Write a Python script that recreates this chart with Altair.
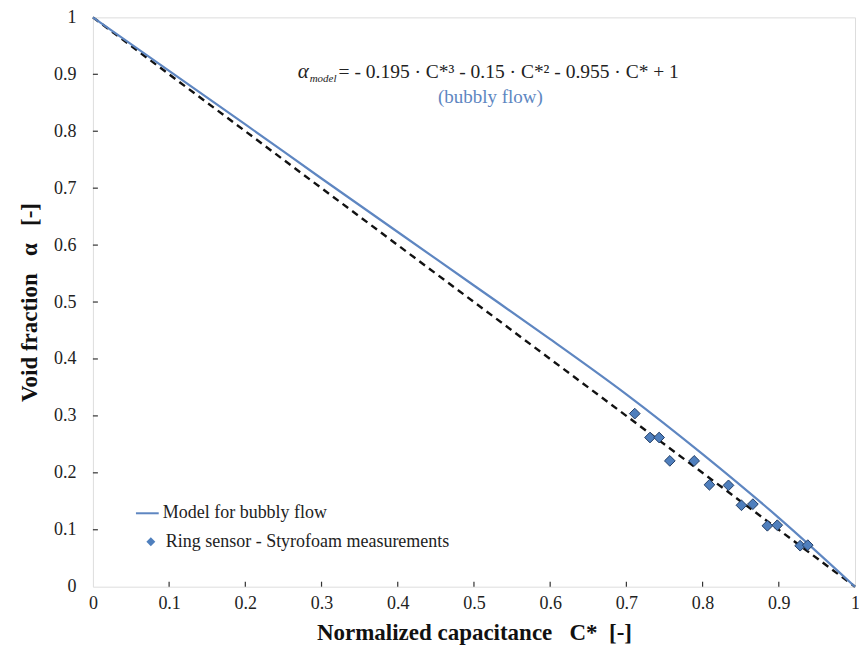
import altair as alt
import pandas as pd

# Model for bubbly flow
model_c = [0.0, 0.1, 0.2, 0.3, 0.4, 0.5, 0.6, 0.7, 0.8, 0.9, 1.0]
model_a = [1.0, 0.906, 0.812, 0.717, 0.623, 0.529, 0.435, 0.338, 0.233, 0.121, 0.0]

# Dashed reference line
ref_c = [0.0, 1.0]
ref_a = [1.0, 0.0]

# Ring sensor - Styrofoam measurements
meas_c = [0.711, 0.731, 0.743, 0.757, 0.789, 0.809, 0.834, 0.851, 0.866, 0.885, 0.898, 0.928, 0.938]
meas_a = [0.304, 0.262, 0.262, 0.221, 0.221, 0.179, 0.178, 0.143, 0.145, 0.107, 0.108, 0.072, 0.073]

ticks = [0.1, 0.2, 0.3, 0.4, 0.5, 0.6, 0.7, 0.8, 0.9]
tick_values = [0, 0.1, 0.2, 0.3, 0.4, 0.5, 0.6, 0.7, 0.8, 0.9, 1]

W, H = 763, 570
FONT = "Liberation Serif, Times New Roman, DejaVu Serif, serif"
BLUE = "#5E86C1"
NB = "\u00a0"

model_df = pd.DataFrame({"C": model_c, "a": model_a, "s": ["Model for bubbly flow"] * len(model_c)})
ref_df = pd.DataFrame({"C": ref_c, "a": ref_a})
meas_df = pd.DataFrame({"C": meas_c, "a": meas_a, "s": ["Ring sensor - Styrofoam measurements"] * len(meas_c)})
tick_df = pd.DataFrame({"t": ticks})

xs = alt.Scale(domain=[0, 1], nice=False)
ys = alt.Scale(domain=[0, 1], nice=False)

xaxis = alt.Axis(values=tick_values, format=".1~f", ticks=False, domain=False, grid=False,
                 labelFlush=False, labelOverlap=False,
                 labelFont=FONT, labelFontSize=18, labelColor="#222", labelPadding=8,
                 title=f"Normalized capacitance{NB}{NB}{NB}C*{NB}{NB}[-]", titleFont=FONT, titleFontSize=23,
                 titleFontWeight="bold", titleColor="#111", titlePadding=9)
yaxis = alt.Axis(values=tick_values, format=".1~f", ticks=False, domain=False, grid=False,
                 labelFlush=False, labelOverlap=False,
                 labelFont=FONT, labelFontSize=18, labelColor="#222", labelPadding=17,
                 title=f"Void fraction{NB}{NB}{NB}α{NB}{NB}{NB}[-]", titleFont=FONT, titleFontSize=23,
                 titleFontWeight="bold", titleColor="#111", titlePadding=12)

ref = alt.Chart(ref_df).mark_line(color="#111", strokeWidth=2.4, strokeDash=[7, 5]).encode(
    x=alt.X("C:Q", scale=xs, axis=xaxis),
    y=alt.Y("a:Q", scale=ys, axis=yaxis),
)

model = alt.Chart(model_df).mark_line(strokeWidth=2.2, interpolate="monotone").encode(
    x=alt.X("C:Q", scale=xs),
    y=alt.Y("a:Q", scale=ys),
    color=alt.Color("s:N", scale=alt.Scale(range=[BLUE]),
                    legend=alt.Legend(orient="none", legendX=42, legendY=484, title=None,
                                      symbolType="stroke", symbolSize=520, symbolStrokeWidth=2,
                                      labelFont=FONT, labelFontSize=18, labelColor="#222",
                                      labelOffset=3, padding=0, labelLimit=500)),
)

pts = alt.Chart(meas_df).mark_point(shape="diamond", filled=True, size=115, fill="#4F7FBD",
                                    stroke="#243F66", strokeWidth=1, opacity=1).encode(
    x=alt.X("C:Q", scale=xs),
    y=alt.Y("a:Q", scale=ys),
    shape=alt.Shape("s:N", scale=alt.Scale(range=["diamond"]),
                    legend=alt.Legend(orient="none", legendX=49, legendY=516, title=None,
                                      symbolSize=80, symbolFillColor="#4F7FBD",
                                      symbolStrokeColor="#4F7FBD", symbolStrokeWidth=0,
                                      labelFont=FONT, labelFontSize=18, labelColor="#222",
                                      labelOffset=6, padding=0, labelLimit=500)),
)

xt = alt.Chart(tick_df).mark_rule(color="#333", strokeWidth=1.2).encode(
    x=alt.X("t:Q", scale=xs), y=alt.value(H), y2=alt.value(H - 5))
yt = alt.Chart(tick_df).mark_rule(color="#333", strokeWidth=1.2).encode(
    y=alt.Y("t:Q", scale=ys), x=alt.value(0), x2=alt.value(5))

one = pd.DataFrame({"k": [0]})
eq_a = alt.Chart(one).mark_text(font=FONT, fontSize=21, fontStyle="italic", align="left",
                                baseline="alphabetic", color="#222").encode(
    x=alt.value(205), y=alt.value(61), text=alt.value("α"))
eq_sub = alt.Chart(one).mark_text(font=FONT, fontSize=11, fontStyle="italic", align="left",
                                  baseline="alphabetic", color="#222").encode(
    x=alt.value(217), y=alt.value(65), text=alt.value("model"))
eq_rest = alt.Chart(one).mark_text(font=FONT, fontSize=19.5, align="left",
                                   baseline="alphabetic", color="#222").encode(
    x=alt.value(246), y=alt.value(61),
    text=alt.value("= - 0.195 · C*³ - 0.15 · C*² - 0.955 · C* + 1"))
eq_note = alt.Chart(one).mark_text(font=FONT, fontSize=19, align="center",
                                   baseline="alphabetic", color=BLUE).encode(
    x=alt.value(398), y=alt.value(86), text=alt.value("(bubbly flow)"))

chart = alt.layer(ref, model, pts, xt, yt, eq_a, eq_sub, eq_rest, eq_note).resolve_scale(
    color="independent", shape="independent"
).properties(
    width=W, height=H, autosize=alt.AutoSizeParams(type="none"),
    padding={"left": 85, "top": 9, "right": 4, "bottom": 58},
).configure_view(stroke="#444", strokeWidth=1.5).configure(background="white")

chart.save("out.html", embed_options={"renderer": "svg", "actions": False})
